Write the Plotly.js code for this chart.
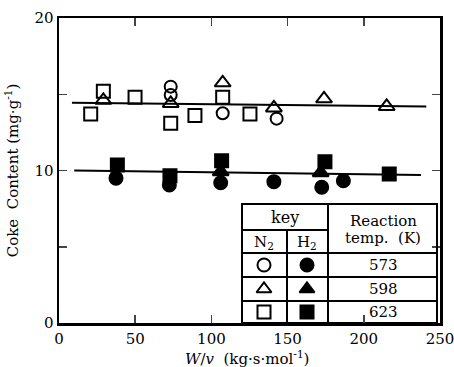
<!DOCTYPE html>
<html><head><meta charset="utf-8">
<script src="https://cdn.plot.ly/plotly-3.0.1.min.js"></script>
<style>body{margin:0;background:#fff}#c{width:454px;height:367px}</style>
</head><body><div id="c"></div>
<script>
// N2 atmosphere (open symbols)
const n2_573_x = [73.3, 73.3, 107.4, 142.8];
const n2_573_y = [15.5, 14.95, 13.75, 13.4];
const n2_598_x = [29.1, 73.3, 107.4, 141.0, 173.9, 215.0];
const n2_598_y = [14.6, 14.4, 15.75, 14.1, 14.7, 14.2];
const n2_623_x = [20.8, 29.1, 49.9, 73.3, 89.2, 107.4, 125.3];
const n2_623_y = [13.7, 15.2, 14.8, 13.1, 13.6, 14.8, 13.7];
// H2 atmosphere (filled symbols)
const h2_573_x = [37.4, 72.4, 106.1, 141.0, 172.4, 186.6];
const h2_573_y = [9.5, 9.05, 9.2, 9.27, 8.9, 9.33];
const h2_598_x = [106.1, 171.7];
const h2_598_y = [9.92, 9.86];
const h2_623_x = [38.3, 72.8, 106.7, 174.5, 216.7];
const h2_623_y = [10.36, 9.66, 10.64, 10.58, 9.77];
// fitted lines
const fitN2_x = [8.5, 241];
const fitN2_y = [14.45, 14.2];
const fitH2_x = [10, 237.5];
const fitH2_y = [10.0, 9.7];
// axis ticks
const xTickVals = [0, 50, 100, 150, 200, 250];
const xTickText = ['0', '50', '100', '150', '200', '250'];
const yTickVals = [0, 5, 10, 15, 20];
const yTickText = ['0', '', '10', '', '20'];
// key table
const keyTemps = ['573', '598', '623'];
const keyOpen = ['circle-open', 'triangle-up-open', 'square-open'];
const keyFilled = ['circle', 'triangle-up', 'square'];

const F = 'DejaVu Serif';
const mk = (sym, size) => ({symbol: sym, size: size, color: '#000', line: {color: '#000', width: 2}});
const pts = (x, y, sym, size) => ({x, y, type: 'scatter', mode: 'markers', marker: mk(sym, size), hoverinfo: 'skip', showlegend: false});
const ln = (x, y) => ({x, y, type: 'scatter', mode: 'lines', line: {color: '#000', width: 2}, showlegend: false});

// table geometry in pixel space (x2/y2 axes)
const tL = 242, tR = 437, tT = 204, tB = 323;
const c1 = 287, c2 = 328;
const r1 = 230, r2 = 253, rows = [253, 277, 301, 323];
const colA = 264, colB = 307, colC = 383;
const rowMid = [265, 289, 312];

const traces = [
  ln(fitN2_x, fitN2_y), ln(fitH2_x, fitH2_y),
  pts(n2_623_x, n2_623_y, 'square-open', 13),
  pts(n2_598_x, n2_598_y, 'triangle-up-open', 14),
  pts(n2_573_x, n2_573_y, 'circle-open', 12),
  pts(h2_573_x, h2_573_y, 'circle', 13),
  pts(h2_598_x, h2_598_y, 'triangle-up', 14),
  pts(h2_623_x, h2_623_y, 'square', 13),
  {x: rowMid.map(() => colA), y: rowMid, xaxis: 'x2', yaxis: 'y2', type: 'scatter', mode: 'markers',
   marker: {symbol: keyOpen, size: 13, color: '#000', line: {color: '#000', width: 2}}, showlegend: false, hoverinfo: 'skip'},
  {x: rowMid.map(() => colB), y: rowMid, xaxis: 'x2', yaxis: 'y2', type: 'scatter', mode: 'markers',
   marker: {symbol: keyFilled, size: 13, color: '#000', line: {color: '#000', width: 2}}, showlegend: false, hoverinfo: 'skip'}
];

const L = (x0, y0, x1, y1) => ({type: 'line', xref: 'x2', yref: 'y2', x0, y0, x1, y1, line: {color: '#000', width: 2}});
const shapes = [
  {type: 'rect', xref: 'x2', yref: 'y2', x0: tL, x1: tR, y0: tT, y1: tB, fillcolor: '#fff', line: {color: '#000', width: 2}, layer: 'below'},
  L(tL, tT, tR, tT), L(tL, tT, tL, tB), L(tR, tT, tR, tB),
  L(tL, r1, c2, r1),
  L(tL, r2, tR, r2), L(tL, rows[1], tR, rows[1]), L(tL, rows[2], tR, rows[2]),
  L(c1, r1, c1, tB), L(c2, tT, c2, tB)
];
const A = (x, y, text, size, extra) => Object.assign({xref: 'x2', yref: 'y2', x, y, text, showarrow: false, font: {family: F, size: size || 16, color: '#000'}}, extra || {});
const annotations = [
  A((tL + c2) / 2, 217, 'key', 16),
  A(colA, 242, 'N<sub>2</sub>', 15),
  A(colB, 242, 'H<sub>2</sub>', 15),
  A(colC, 221, 'Reaction', 15),
  A(colC, 238, 'temp.  (K)', 15),
  // x-axis title
  {xref: 'paper', yref: 'paper', x: 0.493, y: -0.116, yanchor: 'middle', xanchor: 'center', showarrow: false,
   text: '<i>W</i>/<i>v</i>  (kg·s·mol<sup>-1</sup>)', font: {family: F, size: 15, color: '#000'}}
].concat(keyTemps.map((t, i) => A(colC, rowMid[i], t, 15)));

const layout = {
  width: 454, height: 367,
  margin: {l: 59, r: 14, t: 18, b: 44},
  paper_bgcolor: '#fff', plot_bgcolor: '#fff',
  font: {family: F, color: '#000'},
  xaxis: {range: [0, 250], tickvals: xTickVals, ticktext: xTickText, ticks: 'inside', ticklen: 8, tickwidth: 1.5,
    showgrid: false, zeroline: false, showline: true, linewidth: 2.5, linecolor: '#000', mirror: 'ticks',
    tickfont: {family: F, size: 15}, ticklabeloverflow: 'allow'},
  yaxis: {range: [0, 20], tickvals: yTickVals, ticktext: yTickText, ticks: 'inside', ticklen: 8, tickwidth: 1.5,
    showgrid: false, zeroline: false, showline: true, linewidth: 2.5, linecolor: '#000', mirror: 'ticks',
    tickfont: {family: F, size: 15}, ticklabelstandoff: 0,
    title: {text: 'Coke  Content (mg·g<sup>-1</sup>)', font: {family: F, size: 15}, standoff: 12}},
  xaxis2: {overlaying: 'x', anchor: 'y2', range: [59, 440], visible: false, fixedrange: true},
  yaxis2: {overlaying: 'y', anchor: 'x2', range: [323, 18], visible: false, fixedrange: true},
  shapes, annotations
};
Plotly.newPlot('c', traces, layout, {displayModeBar: false, staticPlot: true});
</script></body></html>
